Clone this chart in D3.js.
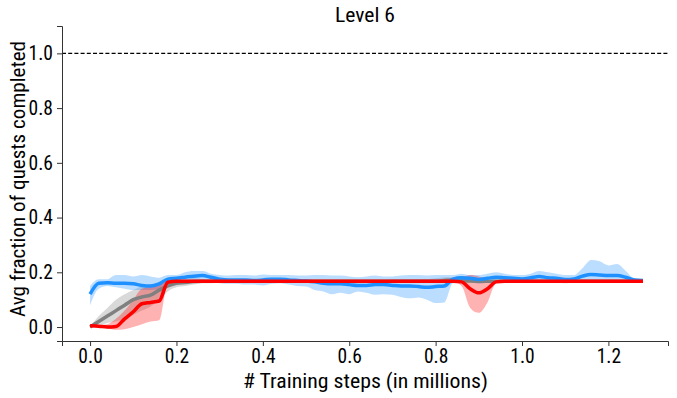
<!DOCTYPE html>
<html><head><meta charset="utf-8">
<script src="https://cdn.jsdelivr.net/npm/d3@7"></script>
<style>
body{margin:0;background:#fff;}
text{font-family:"Roboto Condensed","Roboto",sans-serif;}
</style></head>
<body><svg id="c" width="677" height="398"></svg>
<script>
const steps = [0.00,0.02,0.04,0.06,0.08,0.10,0.12,0.14,0.16,0.18,0.20,0.22,0.24,0.26,0.28,0.30,0.32,0.34,0.36,0.38,0.40,0.42,0.44,0.46,0.48,0.50,0.52,0.54,0.56,0.58,0.60,0.62,0.64,0.66,0.68,0.70,0.72,0.74,0.76,0.78,0.80,0.82,0.84,0.86,0.88,0.90,0.92,0.94,0.96,0.98,1.00,1.02,1.04,1.06,1.08,1.10,1.12,1.14,1.16,1.18,1.20,1.22,1.24,1.26,1.28];
const blueMean = [0.12,0.16,0.162,0.16,0.16,0.158,0.152,0.15,0.158,0.175,0.178,0.182,0.186,0.188,0.182,0.175,0.172,0.172,0.172,0.17,0.172,0.175,0.175,0.172,0.17,0.168,0.165,0.16,0.158,0.158,0.155,0.152,0.152,0.155,0.155,0.152,0.15,0.15,0.148,0.145,0.148,0.15,0.175,0.18,0.178,0.174,0.178,0.182,0.18,0.178,0.176,0.18,0.185,0.18,0.178,0.174,0.176,0.186,0.192,0.19,0.188,0.188,0.182,0.172,0.17];
const blueLo = [0.08,0.14,0.15,0.145,0.14,0.135,0.135,0.135,0.14,0.16,0.165,0.165,0.17,0.172,0.168,0.16,0.158,0.158,0.155,0.155,0.152,0.158,0.16,0.155,0.15,0.148,0.135,0.13,0.12,0.125,0.12,0.13,0.125,0.118,0.12,0.118,0.11,0.105,0.108,0.1,0.088,0.09,0.16,0.165,0.165,0.158,0.162,0.165,0.165,0.162,0.162,0.165,0.168,0.165,0.162,0.16,0.162,0.165,0.17,0.168,0.165,0.168,0.165,0.165,0.165];
const blueHi = [0.15,0.175,0.175,0.19,0.19,0.185,0.19,0.185,0.18,0.19,0.19,0.2,0.205,0.205,0.195,0.19,0.188,0.19,0.19,0.188,0.192,0.19,0.19,0.19,0.188,0.188,0.19,0.19,0.188,0.188,0.185,0.182,0.185,0.188,0.185,0.185,0.188,0.19,0.19,0.188,0.19,0.19,0.19,0.195,0.19,0.19,0.195,0.2,0.195,0.19,0.19,0.195,0.205,0.2,0.195,0.19,0.19,0.215,0.245,0.24,0.225,0.23,0.205,0.178,0.175];
const redMean = [0.005,0.003,0.0,0.002,0.03,0.056,0.085,0.09,0.095,0.164,0.167,0.167,0.167,0.167,0.167,0.167,0.167,0.167,0.167,0.167,0.167,0.167,0.167,0.167,0.167,0.167,0.167,0.167,0.167,0.167,0.167,0.167,0.167,0.167,0.167,0.167,0.167,0.167,0.167,0.167,0.167,0.167,0.167,0.165,0.14,0.125,0.14,0.165,0.167,0.167,0.167,0.167,0.167,0.167,0.167,0.167,0.167,0.167,0.167,0.167,0.167,0.167,0.167,0.167,0.167];
const redLo = [0.003,0.0,-0.005,-0.01,-0.008,0.0,0.01,0.02,0.025,0.16,0.165,0.165,0.165,0.165,0.165,0.165,0.165,0.165,0.165,0.165,0.165,0.165,0.165,0.165,0.165,0.165,0.165,0.165,0.165,0.165,0.165,0.165,0.165,0.165,0.165,0.165,0.165,0.165,0.165,0.165,0.165,0.165,0.165,0.15,0.07,0.052,0.09,0.16,0.165,0.165,0.165,0.165,0.165,0.165,0.165,0.165,0.165,0.165,0.165,0.165,0.165,0.165,0.165,0.165,0.165];
const redHi = [0.007,0.006,0.01,0.03,0.06,0.1,0.14,0.147,0.16,0.17,0.17,0.17,0.17,0.17,0.17,0.17,0.17,0.17,0.17,0.17,0.17,0.17,0.17,0.17,0.17,0.17,0.17,0.17,0.17,0.17,0.17,0.17,0.17,0.17,0.17,0.17,0.17,0.17,0.17,0.17,0.17,0.17,0.17,0.18,0.19,0.185,0.175,0.17,0.17,0.17,0.17,0.17,0.17,0.17,0.17,0.17,0.17,0.17,0.17,0.17,0.17,0.17,0.17,0.17,0.17];
const grayMean = [0.0,0.02,0.04,0.06,0.08,0.1,0.11,0.117,0.135,0.15,0.16,0.163,0.166,0.167,0.167,0.167,0.167,0.167,0.167,0.167,0.167,0.167,0.167,0.167,0.167,0.167,0.167,0.167,0.167,0.167,0.167,0.167,0.167,0.167,0.167,0.167,0.167,0.167,0.167,0.167,0.167,0.17,0.172,0.17,0.168,0.167,0.167,0.167,0.167,0.167,0.167,0.167,0.167,0.167,0.167,0.167,0.167,0.167,0.167,0.167,0.167,0.167,0.167,0.167,0.167];
const grayLo = [0.0,0.005,0.015,0.02,0.03,0.045,0.06,0.075,0.1,0.13,0.145,0.15,0.155,0.16,0.16,0.162,0.162,0.162,0.162,0.162,0.162,0.162,0.162,0.162,0.162,0.162,0.162,0.162,0.162,0.162,0.162,0.162,0.162,0.162,0.162,0.162,0.162,0.162,0.162,0.162,0.162,0.162,0.165,0.165,0.165,0.165,0.165,0.165,0.165,0.165,0.165,0.165,0.165,0.165,0.165,0.165,0.165,0.165,0.165,0.165,0.165,0.165,0.165,0.165,0.165];
const grayHi = [0.0,0.04,0.07,0.1,0.12,0.135,0.15,0.155,0.165,0.172,0.175,0.175,0.178,0.175,0.172,0.172,0.172,0.172,0.172,0.172,0.172,0.172,0.172,0.172,0.172,0.172,0.172,0.172,0.172,0.172,0.172,0.172,0.172,0.172,0.172,0.175,0.175,0.175,0.175,0.175,0.178,0.182,0.182,0.178,0.172,0.17,0.17,0.17,0.17,0.17,0.17,0.17,0.17,0.17,0.17,0.17,0.17,0.17,0.17,0.17,0.17,0.17,0.17,0.17,0.17];
const xTicks = [0.0,0.2,0.4,0.6,0.8,1.0,1.2];
const yTicks = [0.0,0.2,0.4,0.6,0.8,1.0];
const title = "Level 6";
const xLabel = "# Training steps (in millions)";
const yLabel = "Avg fraction of quests completed";
const refLine = 1.0;

const svg = d3.select("#c");
const m = {l:62, r:668, t:26, b:341};
const x = d3.scaleLinear().domain([-0.065, 1.338]).range([m.l, m.r]);
const y = d3.scaleLinear().domain([-0.051, 1.1]).range([m.b, m.t]);

const series = [
  {mean:grayMean, lo:grayLo, hi:grayHi, color:"#808080", a:0.3},
  {mean:blueMean, lo:blueLo, hi:blueHi, color:"#1e90ff", a:0.3},
  {mean:redMean, lo:redLo, hi:redHi, color:"#ff0000", a:0.3}
];
const area = d3.area().curve(d3.curveMonotoneX).x((d,i)=>x(steps[i])).y0(d=>y(d[0])).y1(d=>y(d[1]));
const line = d3.line().curve(d3.curveMonotoneX).x((d,i)=>x(steps[i])).y(d=>y(d));
series.forEach(s=>{
  svg.append("path").attr("d", area(s.lo.map((v,i)=>[v,s.hi[i]]))).attr("fill", s.color).attr("fill-opacity", s.a).attr("stroke","none");
});
series.forEach(s=>{
  svg.append("path").attr("d", line(s.mean)).attr("fill","none").attr("stroke", s.color).attr("stroke-width",3.5);
});

svg.append("line").attr("x1", m.l).attr("x2", m.r).attr("y1", y(refLine)).attr("y2", y(refLine))
  .attr("stroke","#000").attr("stroke-width",1.2).attr("stroke-dasharray","4,2.2");

const xa = svg.append("g").attr("transform",`translate(0,${m.b})`)
  .call(d3.axisBottom(x).tickValues(xTicks).tickFormat(d3.format(".1f")).tickSize(5).tickPadding(3));
const ya = svg.append("g").attr("transform",`translate(${m.l},0)`)
  .call(d3.axisLeft(y).tickValues(yTicks).tickFormat(d3.format(".1f")).tickSize(5).tickPadding(4));
[xa,ya].forEach(g=>{
  g.select(".domain").attr("stroke","#333").attr("stroke-width",1);
  g.selectAll(".tick line").attr("stroke","#333");
  g.selectAll("text").attr("font-size",19.5).attr("fill","#000").style("font-family",'"Roboto Condensed","Roboto",sans-serif');
});

svg.append("text").attr("x", 365).attr("y", 21.5).attr("text-anchor","middle").attr("font-size",21)
  .attr("textLength",60).attr("lengthAdjust","spacingAndGlyphs").text(title);
svg.append("text").attr("x", 365.5).attr("y", 388).attr("text-anchor","middle").attr("font-size",21)
  .attr("textLength",245).attr("lengthAdjust","spacingAndGlyphs").text(xLabel);
svg.append("text").attr("transform","translate(25,179) rotate(-90)").attr("text-anchor","middle").attr("font-size",20)
  .attr("textLength",276).attr("lengthAdjust","spacingAndGlyphs").text(yLabel);
</script></body></html>
